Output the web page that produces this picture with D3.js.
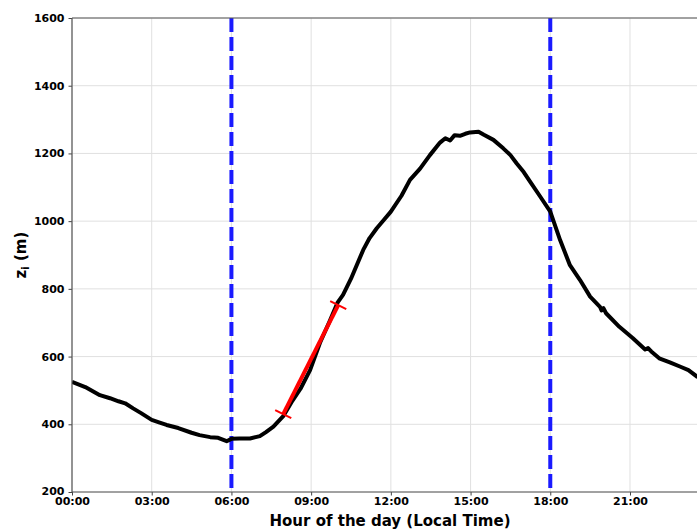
<!DOCTYPE html>
<html>
<head>
<meta charset="utf-8">
<script src="https://cdn.jsdelivr.net/npm/d3@7"></script>
<style>
  body { margin: 0; background: #fff; }
  svg { display: block; font-family: "DejaVu Sans", sans-serif; font-weight: bold; }
</style>
</head>
<body>
<div id="chart"></div>
<script>
// boundary layer height over the day
var hours = [0.0, 0.5, 1.05, 1.43, 1.75, 2.0, 2.3, 2.6, 3.0, 3.3, 3.56, 4.0, 4.5, 4.8, 5.2, 5.5, 5.82,
  6.0, 6.3, 6.7, 7.07, 7.3, 7.58, 7.95, 8.3, 8.6, 8.96, 9.33, 9.7, 10.0, 10.2, 10.5, 10.96, 11.2,
  11.47, 11.75, 12.0, 12.4, 12.72, 13.1, 13.47, 13.85, 14.05, 14.23, 14.4, 14.6, 14.8, 14.98, 15.3,
  15.5, 15.86, 16.23, 16.5, 16.73, 17.0, 17.24, 17.6, 18.0, 18.37, 18.74, 19.12, 19.5, 19.87, 19.93,
  20.0, 20.1, 20.6, 21.1, 21.57, 21.68, 21.8, 22.1, 22.5, 22.9, 23.2, 23.52, 24.0];
var zi = [525, 510, 486, 477, 468, 462, 447, 433, 413, 405, 398, 389, 375, 368, 362, 360, 350,
  357, 358, 358, 365, 377, 393, 424, 470, 505, 560, 640, 705, 760, 782, 830, 915, 950,
  979, 1005, 1028, 1075, 1122, 1155, 1195, 1232, 1245, 1238, 1254, 1252, 1258, 1262, 1264,
  1255, 1240, 1215, 1195, 1171, 1145, 1117, 1075, 1028, 944, 870, 826, 777, 747, 736,
  743, 728, 688, 655, 621, 625, 615, 595, 583, 570, 560, 541, 528];

// fitted growth segment (red)
var fitHours = [7.95, 10.02];
var fitZi = [430, 752];

// sunrise / sunset markers
var markerHours = [6, 18];

var xTickHours = [0, 3, 6, 9, 12, 15, 18, 21];
var xTickLabels = ["00:00", "03:00", "06:00", "09:00", "12:00", "15:00", "18:00", "21:00"];
var yTicks = [200, 400, 600, 800, 1000, 1200, 1400, 1600];

var W = 697, H = 529;
var margin = {top: 18, left: 72};
var plotW = 637.7, plotH = 474;

var svg = d3.select("#chart").append("svg")
  .attr("width", W).attr("height", H);

var x = d3.scaleLinear().domain([0, 24]).range([margin.left, margin.left + plotW]);
var y = d3.scaleLinear().domain([200, 1600]).range([margin.top + plotH, margin.top]);

svg.append("clipPath").attr("id", "clip").append("rect")
  .attr("x", margin.left).attr("y", margin.top)
  .attr("width", plotW).attr("height", plotH);

// grid
var grid = svg.append("g");
grid.selectAll(".gx").data(xTickHours).enter().append("line")
  .attr("x1", d => x(d)).attr("x2", d => x(d))
  .attr("y1", margin.top).attr("y2", margin.top + plotH)
  .attr("stroke", "#e0e0e0").attr("stroke-width", 1);
grid.selectAll(".gy").data(yTicks).enter().append("line")
  .attr("x1", margin.left).attr("x2", margin.left + plotW)
  .attr("y1", d => y(d)).attr("y2", d => y(d))
  .attr("stroke", "#e0e0e0").attr("stroke-width", 1);

var plot = svg.append("g").attr("clip-path", "url(#clip)");

// dashed blue verticals
plot.selectAll(".vline").data(markerHours).enter().append("line")
  .attr("x1", d => x(d)).attr("x2", d => x(d))
  .attr("y1", margin.top).attr("y2", margin.top + plotH)
  .attr("stroke", "#1a1aff").attr("stroke-width", 4)
  .attr("stroke-dasharray", "14,5");

// black curve
var line = d3.line().x((d, i) => x(hours[i])).y(d => y(d));
plot.append("path").datum(zi)
  .attr("d", line)
  .attr("fill", "none").attr("stroke", "#000")
  .attr("stroke-width", 4).attr("stroke-linejoin", "round");

// red fit and end ticks
var fit = fitHours.map((h, i) => [x(h), y(fitZi[i])]);
plot.append("line")
  .attr("x1", fit[0][0]).attr("y1", fit[0][1])
  .attr("x2", fit[1][0]).attr("y2", fit[1][1])
  .attr("stroke", "red").attr("stroke-width", 4);
var dx = fit[1][0] - fit[0][0], dy = fit[1][1] - fit[0][1];
var len = Math.sqrt(dx * dx + dy * dy);
var px = -dy / len * 9, py = dx / len * 9;
plot.selectAll(".cap").data(fit).enter().append("line")
  .attr("x1", d => d[0] - px).attr("y1", d => d[1] - py)
  .attr("x2", d => d[0] + px).attr("y2", d => d[1] + py)
  .attr("stroke", "red").attr("stroke-width", 2);

// axes
var xAxis = d3.axisBottom(x).tickValues(xTickHours)
  .tickFormat((d, i) => xTickLabels[i]).tickSize(3.5).tickPadding(2);
var gx = svg.append("g").attr("transform", "translate(0," + (margin.top + plotH) + ")").call(xAxis);
var yAxis = d3.axisLeft(y).tickValues(yTicks).tickFormat(d3.format("d"))
  .tickSize(3.5).tickPadding(4);
var gy = svg.append("g").attr("transform", "translate(" + margin.left + ",0)").call(yAxis);
[gx, gy].forEach(g => {
  g.select(".domain").remove();
  g.selectAll(".tick line").attr("stroke", "#444");
  g.selectAll("text").attr("font-size", 11).attr("font-weight", "bold")
    .attr("font-family", "DejaVu Sans").attr("fill", "#000");
});
gy.selectAll(".tick").filter(d => d === 200).select("text").attr("dy", "0.2em");

// spines
svg.append("line").attr("x1", margin.left).attr("x2", margin.left)
  .attr("y1", margin.top).attr("y2", margin.top + plotH)
  .attr("stroke", "#555").attr("stroke-width", 1.2);
svg.append("line").attr("x1", margin.left).attr("x2", margin.left + plotW)
  .attr("y1", margin.top + plotH).attr("y2", margin.top + plotH)
  .attr("stroke", "#555").attr("stroke-width", 1.2);
svg.append("line").attr("x1", margin.left).attr("x2", margin.left + plotW)
  .attr("y1", margin.top).attr("y2", margin.top)
  .attr("stroke", "#555").attr("stroke-width", 1.2);

// labels
svg.append("text")
  .attr("x", 390).attr("y", 526)
  .attr("text-anchor", "middle").attr("font-size", 15)
  .text("Hour of the day (Local Time)");

var yl = svg.append("text")
  .attr("transform", "translate(26," + 255 + ") rotate(-90)")
  .attr("text-anchor", "middle").attr("font-size", 15);
yl.append("tspan").text("z");
yl.append("tspan").attr("font-size", 10).attr("dy", 3).text("i");
yl.append("tspan").attr("dy", -3).text(" (m)");
</script>
</body>
</html>
